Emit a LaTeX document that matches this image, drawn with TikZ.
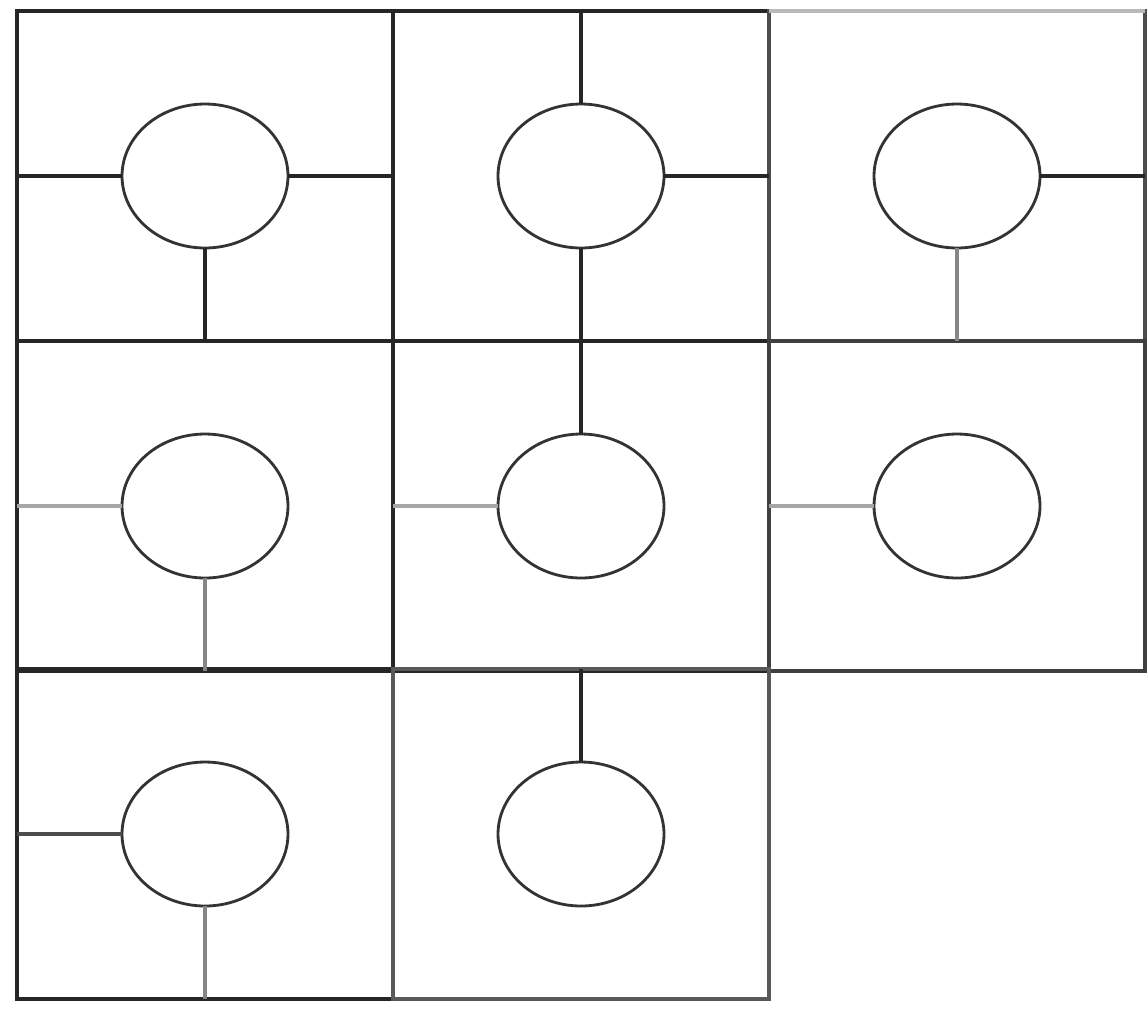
\documentclass[tikz,border=0pt]{standalone}
\usetikzlibrary{shapes.geometric}

\begin{document}
\begin{tikzpicture}[
    x=0.02cm, y=-0.02cm,
    cell/.style={rectangle, draw=black!85, line width=2pt, minimum width=7.52cm, minimum height=6.6cm, inner sep=0pt, outer sep=0pt},
    ring/.style={ellipse, draw=black!80, line width=1.6pt, minimum width=3.32cm, minimum height=2.88cm, inner sep=0pt, outer sep=0pt},
    wire/.style={draw=black!85, line width=1.8pt},
    faint/.style={draw=gray!95, line width=1.8pt}
  ]
    \useasboundingbox (0,0) rectangle (1148,1018);

    % the eight cells
    \node[cell] (s00) at (205,176) {};
    \node[cell] (s01) at (581,176) {};
    \node[cell, draw=black!70] (s02) at (957,176) {};
    \node[cell] (s10) at (205,506) {};
    \node[cell] (s11) at (581,506) {};
    \node[cell, draw=black!75] (s12) at (957,506) {};
    \node[cell] (s20) at (205,834) {};
    \node[cell, draw=black!65] (s21) at (581,834) {};
    \draw[faint, draw=gray!55, line width=2.6pt] (s02.north west) -- (s02.north east);

    % one ring in each cell
    \node[ring] (c00) at (s00) {};
    \node[ring] (c01) at (s01) {};
    \node[ring] (c02) at (s02) {};
    \node[ring] (c10) at (s10) {};
    \node[ring] (c11) at (s11) {};
    \node[ring] (c12) at (s12) {};
    \node[ring] (c20) at (s20) {};
    \node[ring] (c21) at (s21) {};

    % links from the rings to the cell walls
    \draw[wire] (c00.west) -- (s00.west);
    \draw[wire] (c00.east) -- (s00.east);
    \draw[wire] (c00.south) -- (s00.south);
    \draw[wire] (c01.north) -- (s01.north);
    \draw[wire] (c01.east) -- (s01.east);
    \draw[wire] (c01.south) -- (s01.south);
    \draw[wire] (c02.east) -- (s02.east);
    \draw[faint] (c02.south) -- (s02.south);
    \draw[faint, draw=gray!70, line width=2.6pt] (c10.west) -- (s10.west);
    \draw[faint] (c10.south) -- (s10.south);
    \draw[wire] (c11.north) -- (s11.north);
    \draw[faint, draw=gray!70, line width=2.6pt] (c11.west) -- (s11.west);
    \draw[faint, draw=gray!70, line width=2.6pt] (c12.west) -- (s12.west);
    \draw[wire, draw=black!70] (c20.west) -- (s20.west);
    \draw[faint] (c20.south) -- (s20.south);
    \draw[wire] (c21.north) -- (s21.north);
\end{tikzpicture}
\end{document}
